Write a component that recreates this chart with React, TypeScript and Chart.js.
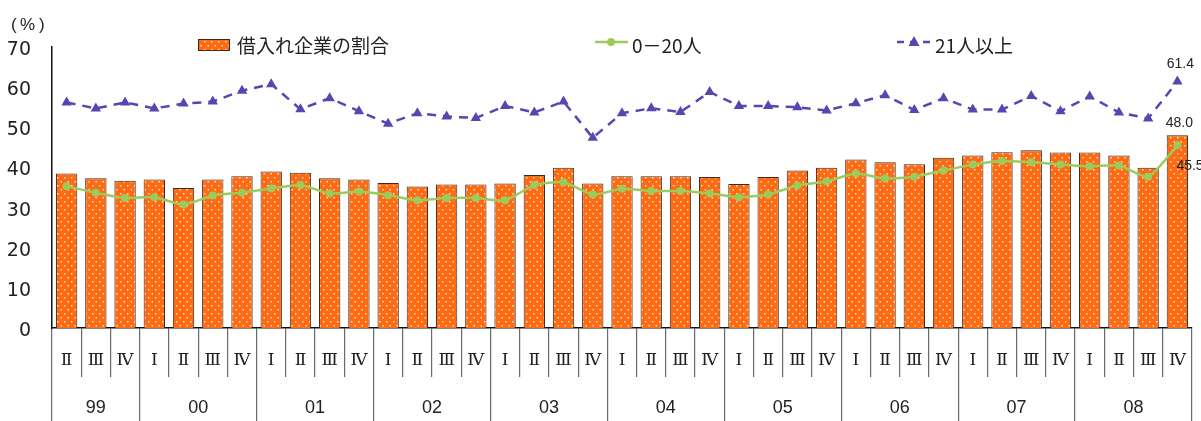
import { useEffect, useRef } from 'react';
import { Chart, registerables } from 'chart.js';

Chart.register(...registerables);

const quarterLabels = [
  'Ⅱ', 'Ⅲ', 'Ⅳ',
  'Ⅰ', 'Ⅱ', 'Ⅲ', 'Ⅳ',
  'Ⅰ', 'Ⅱ', 'Ⅲ', 'Ⅳ',
  'Ⅰ', 'Ⅱ', 'Ⅲ', 'Ⅳ',
  'Ⅰ', 'Ⅱ', 'Ⅲ', 'Ⅳ',
  'Ⅰ', 'Ⅱ', 'Ⅲ', 'Ⅳ',
  'Ⅰ', 'Ⅱ', 'Ⅲ', 'Ⅳ',
  'Ⅰ', 'Ⅱ', 'Ⅲ', 'Ⅳ',
  'Ⅰ', 'Ⅱ', 'Ⅲ', 'Ⅳ',
  'Ⅰ', 'Ⅱ', 'Ⅲ', 'Ⅳ',
];
const yearLabels = ['99', '00', '01', '02', '03', '04', '05', '06', '07', '08'];
const quartersPerYear = [3, 4, 4, 4, 4, 4, 4, 4, 4, 4];

const borrowingShare = [
  38.5, 37.3, 36.7, 37.0, 34.9, 37.0, 37.8, 39.0, 38.7, 37.3, 37.0, 36.1, 35.25,
  35.75, 35.75, 36.0, 38.1, 39.9, 36.0, 37.8, 37.8, 37.8, 37.6, 35.9, 37.6, 39.25,
  39.9, 42.0, 41.3, 40.8, 42.4, 43.0, 43.8, 44.3, 43.7, 43.7, 43.0, 39.9, 48.0,
];
const small0to20 = [
  35.3, 33.7, 32.4, 32.6, 30.75, 33.0, 33.7, 34.75, 35.6, 33.5, 34.0, 33.1, 31.8,
  32.4, 32.4, 31.8, 35.6, 36.3, 33.25, 34.7, 34.1, 34.1, 33.5, 32.6, 33.25, 35.5,
  36.5, 38.5, 37.25, 37.7, 39.25, 40.7, 41.6, 41.3, 40.75, 40.3, 40.5, 37.7, 45.5,
];
const large21plus = [
  56.2, 54.7, 56.2, 54.7, 55.9, 56.4, 59.1, 60.75, 54.5, 57.25, 54.0, 50.9, 53.5,
  52.7, 52.3, 55.3, 53.7, 56.4, 47.4, 53.5, 54.75, 53.8, 58.8, 55.3, 55.3, 55.0,
  54.2, 56.0, 58.0, 54.3, 57.25, 54.4, 54.4, 57.8, 54.0, 57.7, 53.7, 52.2, 61.4,
];
const seriesNames = ['借入れ企業の割合', '0－20人', '21人以上'];
const lastLabels = ['48.0', '45.5', '61.4'];

const ORANGE = '#FF6A12';
const GREEN = '#9CCB5C';
const PURPLE = '#5846B0';
const TEXT = '#222';

function makePattern(): CanvasPattern | string {
  const c = document.createElement('canvas');
  c.width = 7;
  c.height = 8;
  const g = c.getContext('2d');
  if (!g) return ORANGE;
  g.fillStyle = ORANGE;
  g.fillRect(0, 0, 7, 8);
  g.fillStyle = 'rgba(255,235,210,0.95)';
  g.fillRect(1, 1, 1.5, 1.5);
  g.fillRect(4.5, 5, 1.5, 1.5);
  const p = g.createPattern(c, 'repeat');
  return p || ORANGE;
}

// year tick positions (boundaries + centres) on the index axis
const yearTicks: { value: number; label: string; edge: boolean }[] = (() => {
  const t: { value: number; label: string; edge: boolean }[] = [];
  let start = -0.5;
  t.push({ value: start, label: '', edge: true });
  quartersPerYear.forEach((n, i) => {
    t.push({ value: start + n / 2, label: yearLabels[i], edge: false });
    start += n;
    t.push({ value: start, label: '', edge: true });
  });
  return t;
})();

export default function App() {
  const ref = useRef<HTMLCanvasElement | null>(null);

  useEffect(() => {
    document.body.style.margin = '0';
    const canvas = ref.current;
    if (!canvas) return;
    const pattern = makePattern();

    const overlay = {
      id: 'overlay',
      afterDraw(chart: any) {
        const ctx = chart.ctx as CanvasRenderingContext2D;
        ctx.save();
        // unit label
        ctx.fillStyle = TEXT;
        ctx.font = '17px "Liberation Sans", Arial, sans-serif';
        ctx.textAlign = 'left';
        ctx.textBaseline = 'middle';
        ctx.fillText('(', 11, 25);
        ctx.fillText('%', 20, 25);
        ctx.fillText(')', 39, 25);

        // legend
        const ly = 45;
        ctx.font = '19px "Noto Sans CJK JP", sans-serif';
        // bar swatch
        ctx.fillStyle = pattern as any;
        ctx.fillRect(198, ly - 6, 32, 12);
        ctx.strokeStyle = '#3a2a20';
        ctx.lineWidth = 1;
        ctx.strokeRect(198.5, ly - 5.5, 31, 11);
        ctx.fillStyle = TEXT;
        ctx.fillText(seriesNames[0], 237, ly + 1);
        // green
        ctx.strokeStyle = GREEN;
        ctx.lineWidth = 2.5;
        ctx.beginPath();
        ctx.moveTo(595, ly - 3);
        ctx.lineTo(628, ly - 3);
        ctx.stroke();
        ctx.fillStyle = GREEN;
        ctx.beginPath();
        ctx.arc(611, ly - 3, 4, 0, Math.PI * 2);
        ctx.fill();
        ctx.fillStyle = TEXT;
        ctx.fillText(seriesNames[1], 632, ly + 1);
        // purple
        ctx.strokeStyle = PURPLE;
        ctx.lineWidth = 2.5;
        ctx.setLineDash([7, 6]);
        ctx.beginPath();
        ctx.moveTo(897, ly - 3);
        ctx.lineTo(931, ly - 3);
        ctx.stroke();
        ctx.setLineDash([]);
        ctx.fillStyle = PURPLE;
        ctx.beginPath();
        ctx.moveTo(914, ly - 9);
        ctx.lineTo(919.5, ly + 1);
        ctx.lineTo(908.5, ly + 1);
        ctx.closePath();
        ctx.fill();
        ctx.fillStyle = TEXT;
        ctx.fillText(seriesNames[2], 935, ly + 1);

        // last-point labels
        ctx.font = '14px "Liberation Sans", Arial, sans-serif';
        const n = borrowingShare.length - 1;
        const bar = chart.getDatasetMeta(0).data[n];
        const g = chart.getDatasetMeta(1).data[n];
        const p = chart.getDatasetMeta(2).data[n];
        ctx.textAlign = 'center';
        ctx.textBaseline = 'middle';
        if (bar) ctx.fillText(lastLabels[0], bar.x + 2, bar.y - 12);
        if (p) ctx.fillText(lastLabels[2], p.x + 3, p.y - 17);
        ctx.textAlign = 'left';
        if (g) ctx.fillText(lastLabels[1], g.x - 1, g.y + 21);
        ctx.restore();
      },
    };

    const chart = new Chart(canvas, {
      type: 'bar',
      data: {
        labels: quarterLabels,
        datasets: [
          {
            type: 'bar',
            label: seriesNames[0],
            data: borrowingShare,
            backgroundColor: pattern as any,
            borderColor: '#3a2a20',
            borderWidth: 1,
            categoryPercentage: 1,
            barPercentage: 0.73,
            order: 3,
          },
          {
            type: 'line',
            label: seriesNames[1],
            data: small0to20,
            borderColor: GREEN,
            backgroundColor: GREEN,
            borderWidth: 2.5,
            pointRadius: 4,
            pointBorderWidth: 0,
            pointBackgroundColor: GREEN,
            tension: 0.2,
            order: 2,
          },
          {
            type: 'line',
            label: seriesNames[2],
            data: large21plus,
            borderColor: PURPLE,
            backgroundColor: PURPLE,
            borderWidth: 2.5,
            borderDash: [9, 7],
            pointStyle: 'triangle',
            pointRadius: 6,
            pointBorderWidth: 0,
            pointBackgroundColor: PURPLE,
            tension: 0,
            order: 1,
          },
        ] as any,
      },
      options: {
        animation: false,
        responsive: false,
        layout: { padding: { top: 47, right: 9, left: 0, bottom: 0 } },
        plugins: { legend: { display: false }, tooltip: { enabled: false } },
        scales: {
          x: {
            type: 'category',
            position: 'bottom',
            weight: 0,
            offset: true,
            grid: {
              display: true,
              offset: true,
              drawOnChartArea: false,
              drawTicks: true,
              tickLength: 49,
              color: '#6a6a6a',
              lineWidth: 1.2,
            },
            border: { display: true, color: '#111', width: 1.5 },
            ticks: {
              autoSkip: false,
              maxRotation: 0,
              minRotation: 0,
              padding: -27,
              color: TEXT,
              font: { family: '"DejaVu Serif", "Liberation Serif", serif', size: 17 },
            },
            afterFit: (s: any) => {
              s.height = 49;
            },
          },
          x2: {
            type: 'linear',
            position: 'bottom',
            weight: 1,
            min: -0.5,
            max: 38.5,
            bounds: 'data',
            offset: false,
            grid: {
              display: true,
              offset: false,
              drawOnChartArea: false,
              drawTicks: true,
              tickLength: 44,
              lineWidth: 1.2,
              color: (c: any) => {
                const t = yearTicks[c.index];
                return t && t.edge ? '#6a6a6a' : 'rgba(0,0,0,0)';
              },
            },
            border: { display: false },
            afterBuildTicks: (s: any) => {
              s.ticks = yearTicks.map((t) => ({ value: t.value }));
            },
            ticks: {
              autoSkip: false,
              maxRotation: 0,
              minRotation: 0,
              padding: -24,
              color: TEXT,
              font: { family: '"Liberation Sans", Arial, sans-serif', size: 18 },
              callback: (_v: any, i: number) => (yearTicks[i] ? yearTicks[i].label : ''),
            },
            afterFit: (s: any) => {
              s.height = 44;
            },
          },
          y: {
            min: 0,
            max: 70,
            grid: { display: false, drawTicks: false },
            border: { display: true, color: '#111', width: 1.5 },
            ticks: {
              stepSize: 10,
              padding: 21,
              labelOffset: 3,
              color: TEXT,
              font: { family: '"DejaVu Sans", sans-serif', size: 19 },
            },
            afterFit: (s: any) => {
              s.width = 52;
            },
          },
        } as any,
      },
      plugins: [overlay],
    });
    return () => chart.destroy();
  }, []);

  return (
    <div style={{ width: 1201, height: 421 }}>
      <canvas ref={ref} width={1201} height={421} />
    </div>
  );
}
